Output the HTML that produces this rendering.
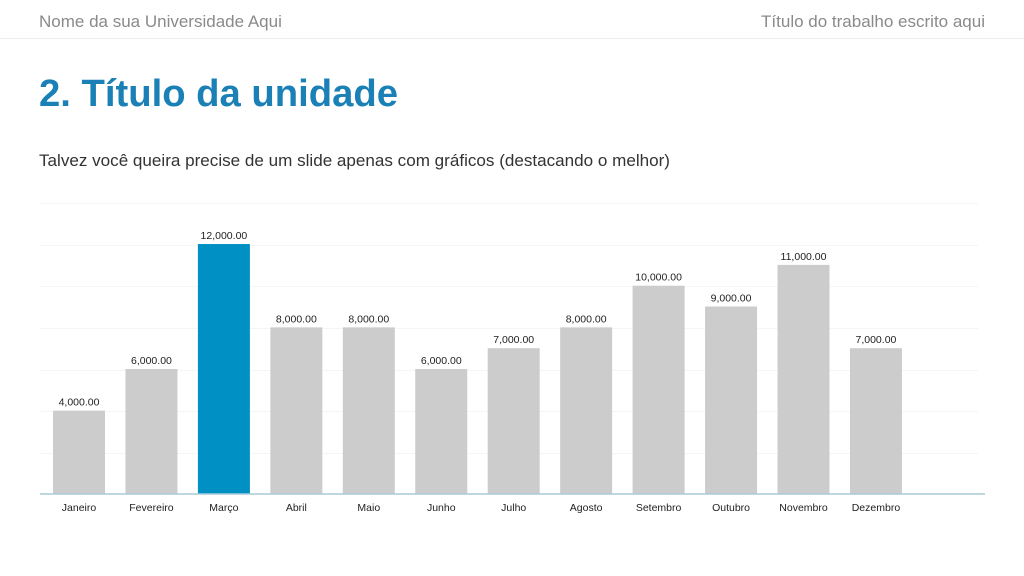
<!DOCTYPE html>
<html><head><meta charset="utf-8"><style>
html,body{margin:0;padding:0;background:#fff;width:1024px;height:576px;overflow:hidden;font-family:"Liberation Sans",Arial,sans-serif}
</style></head><body>
<svg width="1024" height="576" xmlns="http://www.w3.org/2000/svg" font-family="Liberation Sans, Arial, sans-serif">
<text x="39" y="27" font-size="17" fill="#8a8a8a">Nome da sua Universidade Aqui</text>
<text x="985" y="27" font-size="17" fill="#8a8a8a" text-anchor="end">Título do trabalho escrito aqui</text>
<line x1="0" y1="38.5" x2="1024" y2="38.5" stroke="#ececec" stroke-width="1"/>
<text x="39" y="106" font-size="38" font-weight="bold" fill="#1a80b6" textLength="359" lengthAdjust="spacingAndGlyphs">2. Título da unidade</text>
<text x="39" y="166" font-size="17" fill="#333" textLength="631" lengthAdjust="spacingAndGlyphs">Talvez você queira precise de um slide apenas com gráficos (destacando o melhor)</text>
<g stroke="#f5f5f5" stroke-width="1">
<line x1="40" y1="203.5" x2="978" y2="203.5"/>
<line x1="40" y1="245.5" x2="978" y2="245.5"/>
<line x1="40" y1="286.5" x2="978" y2="286.5"/>
<line x1="40" y1="328.5" x2="978" y2="328.5"/>
<line x1="40" y1="370.5" x2="978" y2="370.5"/>
<line x1="40" y1="411.5" x2="978" y2="411.5"/>
<line x1="40" y1="453.5" x2="978" y2="453.5"/>
</g>
<g id="bars" font-size="10.5" fill="#222" text-anchor="middle"></g>
<line x1="40" y1="494" x2="985" y2="494" stroke="#a9ccd9" stroke-width="1.5"/>
</svg>
<script>
var d=[["Janeiro",4],["Fevereiro",6],["Março",12],["Abril",8],["Maio",8],["Junho",6],["Julho",7],["Agosto",8],["Setembro",10],["Outubro",9],["Novembro",11],["Dezembro",7]];
var g=document.getElementById('bars'),h="";
d.forEach(function(e,i){var x=53+i*72.45,top=494-e[1]*20.83,cx=x+26;
h+='<rect x="'+x+'" y="'+top+'" width="52" height="'+(494-top)+'" fill="'+(i==2?'#0090c4':'#cccccc')+'"/>';
h+='<text x="'+cx+'" y="'+(top-5)+'">'+e[1]+',000.00</text>';
h+='<text x="'+cx+'" y="511">'+e[0]+'</text>';});
g.innerHTML=h;
</script>
</body></html>
